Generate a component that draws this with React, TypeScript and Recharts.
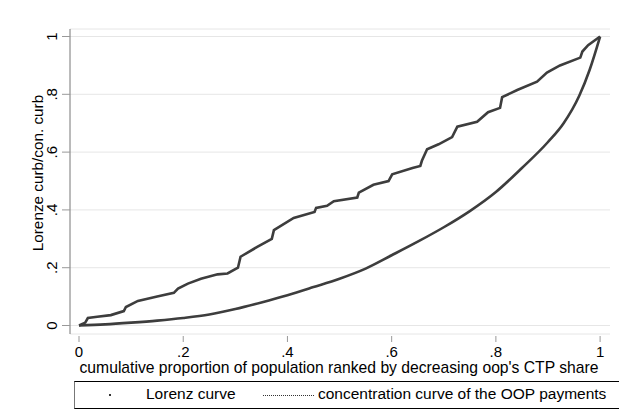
import { CartesianGrid, Label, Line, LineChart, XAxis, YAxis } from "recharts";

// concentration / Lorenz curve (upper, stepped)
const lorenzX = [
  0, 0.012, 0.017, 0.035, 0.061, 0.086, 0.09, 0.113, 0.15, 0.182, 0.19, 0.209,
  0.234, 0.266, 0.285, 0.305, 0.31, 0.342, 0.37, 0.374, 0.412, 0.452, 0.455,
  0.476, 0.489, 0.534, 0.537, 0.565, 0.594, 0.601, 0.64, 0.655, 0.658, 0.668,
  0.69, 0.716, 0.726, 0.764, 0.785, 0.808, 0.812, 0.841, 0.879, 0.898, 0.923,
  0.962, 0.966, 0.977, 1,
];
const lorenzY = [
  0, 0.01, 0.026, 0.03, 0.036, 0.05, 0.064, 0.085, 0.1, 0.113, 0.128, 0.145,
  0.162, 0.177, 0.18, 0.2, 0.238, 0.272, 0.3, 0.33, 0.372, 0.393, 0.407, 0.414,
  0.43, 0.443, 0.46, 0.487, 0.5, 0.523, 0.545, 0.552, 0.57, 0.61, 0.627, 0.652,
  0.688, 0.705, 0.738, 0.753, 0.79, 0.815, 0.844, 0.875, 0.9, 0.927, 0.948,
  0.97, 1,
];

// lower convex curve
const concX = [
  0, 0.05, 0.1, 0.15, 0.2, 0.25, 0.3, 0.35, 0.4, 0.45, 0.5, 0.55, 0.6, 0.65,
  0.7, 0.75, 0.8, 0.85, 0.9, 0.93, 0.96, 0.98, 1,
];
const concY = [
  0, 0.004, 0.01, 0.017, 0.026, 0.038, 0.057, 0.08, 0.105, 0.133, 0.162, 0.197,
  0.243, 0.29, 0.34, 0.396, 0.462, 0.545, 0.635, 0.7, 0.795, 0.885, 1,
];

const ticks = [0, 0.2, 0.4, 0.6, 0.8, 1];

const lorenzData = lorenzX.map((x, i) => ({ x, y: lorenzY[i] }));
const concData = concX.map((x, i) => ({ x, y: concY[i] }));

const fmt = (v: number) => (v === 0 ? "0" : v === 1 ? "1" : String(v).replace(/^0/, ""));

const FONT = "'Liberation Sans', Arial, sans-serif";

function XTick({ x, y, payload }: any) {
  return (
    <g>
      <line x1={x} x2={x} y1={y + 2} y2={y + 8} stroke="#999" />
      <text x={x} y={y + 17} textAnchor="middle" dominantBaseline="central" fontSize={15} fill="#000">
        {fmt(payload.value)}
      </text>
    </g>
  );
}

function YTick({ y, payload }: any) {
  return (
    <text
      x={52}
      y={y}
      transform={`rotate(-90 52 ${y})`}
      textAnchor="middle"
      dominantBaseline="central"
      fontSize={15}
      fill="#000"
    >
      {fmt(payload.value)}
    </text>
  );
}

export default function App() {
  return (
    <div
      style={{
        position: "fixed",
        left: 0,
        top: 0,
        width: 619,
        height: 419,
        overflow: "hidden",
        background: "#fff",
        fontFamily: FONT,
      }}
    >
      <LineChart width={619} height={419} margin={{ top: 29, right: 9, bottom: 0, left: 0 }}>
        <CartesianGrid vertical={false} stroke="#e6e6e6" />
        <XAxis
          type="number"
          dataKey="x"
          domain={[-0.0173, 1.019]}
          ticks={ticks}
          allowDataOverflow
          axisLine={false}
          tickLine={false}
          tickSize={0}
          tickMargin={0}
          height={85}
          tick={<XTick />}
        >
          <Label
            content={() => (
              <text x={339} y={367} textAnchor="middle" dominantBaseline="central" fontSize={15.7} fill="#000">
                cumulative proportion of population ranked by decreasing oop's CTP share
              </text>
            )}
          />
        </XAxis>
        <YAxis
          type="number"
          domain={[-0.0294, 1.026]}
          ticks={ticks}
          allowDataOverflow
          width={70}
          axisLine={{ stroke: "#777" }}
          tickLine={{ stroke: "#999" }}
          tickSize={8}
          tick={<YTick />}
        >
          <Label
            content={() => (
              <text
                x={37}
                y={173}
                transform="rotate(-90 37 173)"
                textAnchor="middle"
                dominantBaseline="central"
                fontSize={15.3}
                fill="#000"
              >
                Lorenze curb/con. curb
              </text>
            )}
          />
        </YAxis>
        <Line
          data={concData}
          dataKey="y"
          type="monotone"
          stroke="#3d3d3d"
          strokeWidth={2.6}
          dot={false}
          isAnimationActive={false}
        />
        <Line
          data={lorenzData}
          dataKey="y"
          type="linear"
          stroke="#3d3d3d"
          strokeWidth={2.6}
          dot={false}
          isAnimationActive={false}
        />
      </LineChart>
      <div
        style={{
          position: "absolute",
          left: 74,
          top: 381,
          width: 570,
          height: 26,
          borderLeft: "1px solid #777",
          borderTop: "1px solid #000",
          borderBottom: "1px solid #000",
          fontSize: 15.5,
          color: "#000",
        }}
      >
        <span
          style={{ position: "absolute", left: 34, top: 12, width: 2, height: 2, background: "#333" }}
        />
        <span style={{ position: "absolute", left: 71, top: 3, whiteSpace: "nowrap" }}>Lorenz curve</span>
        <span
          style={{ position: "absolute", left: 188, top: 13, width: 51, borderTop: "1px dotted #333" }}
        />
        <span style={{ position: "absolute", left: 243, top: 3, whiteSpace: "nowrap" }}>
          concentration curve of the OOP payments
        </span>
      </div>
    </div>
  );
}
